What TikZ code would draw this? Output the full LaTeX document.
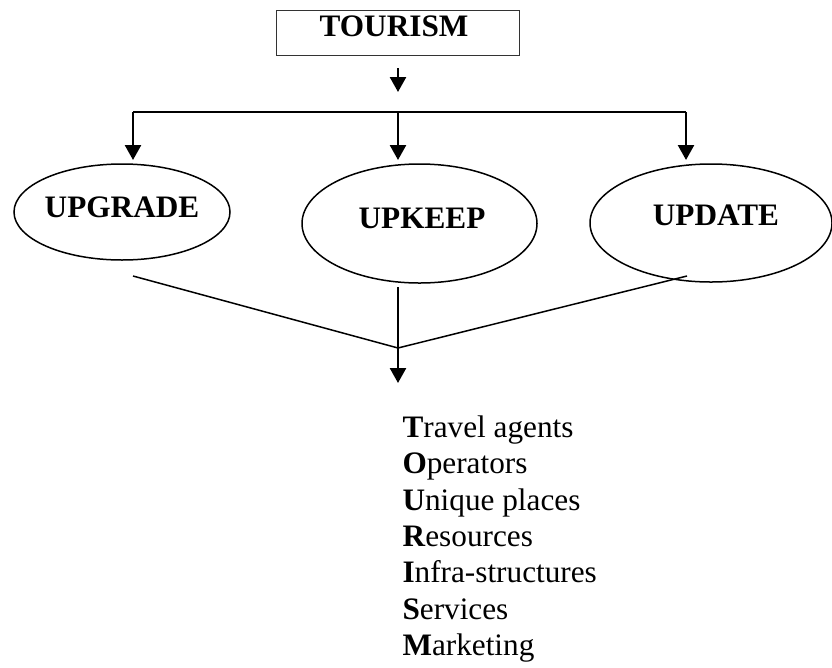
\documentclass[tikz,border=0pt]{standalone}
\usepackage{fontspec}
\setmainfont{Liberation Serif}
\usetikzlibrary{shapes.geometric,arrows.meta}
\begin{document}
\begin{tikzpicture}[x=0.4pt,y=-0.4pt,
  lbl/.style={font=\fontsize{12.5}{15}\selectfont\bfseries, inner sep=0pt, anchor=base},
  itm/.style={font=\fontsize{12.5}{15}\selectfont, inner sep=0pt, anchor=base west},
  oval/.style={ellipse, draw, line width=0.6pt, inner sep=0pt},
  arr/.style={line width=1pt, -{Triangle[length=6pt,width=6.4pt]}},
  ln/.style={line width=0.6pt}]
\useasboundingbox (0,0) rectangle (832,667);
% top box
\node[draw=black!80, line width=0.35pt, minimum width=97.2pt, minimum height=18pt, inner sep=0pt] (tbox) at (397.5,32.5) {};
\node[lbl] (ttxt) at (394,36) {TOURISM};
% ellipses
\node[oval, minimum width=86.4pt, minimum height=38.4pt] (upg) at (122,212) {};
\node[oval, minimum width=94pt, minimum height=47.6pt] (upk) at (419.5,223.5) {};
\node[oval, minimum width=96.8pt, minimum height=47.2pt] (upd) at (711,223) {};
\node[lbl] (upgt) at (122,217) {UPGRADE};
\node[lbl] (upkt) at (422,228) {UPKEEP};
\node[lbl] (updt) at (716,225) {UPDATE};
% coordinates
\coordinate (a1) at (398,68);
\coordinate (a2) at (398,92);
\coordinate (hl) at (133,112);
\coordinate (hm) at (398,112);
\coordinate (hr) at (686,112);
\coordinate (tl) at (133,160);
\coordinate (tm) at (398,160);
\coordinate (tr) at (686,160);
\coordinate (bl) at (133,276);
\coordinate (br) at (687,276);
\coordinate (bm) at (398,287);
\coordinate (cv) at (398,348);
\coordinate (bt) at (398,383);
% connectors
\draw[arr] (a1) -- (a2);
\draw[line width=1pt] (hl) -- (hr);
\draw[arr] (hl) -- (tl);
\draw[arr] (hm) -- (tm);
\draw[arr] (hr) -- (tr);
\draw[ln] (bl) -- (cv);
\draw[ln] (br) -- (cv);
\draw[arr] (bm) -- (bt);
% list
\node[itm] (t1) at (402,437) {\textbf{T}ravel agents};
\node[itm] (t2) at (402,473) {\textbf{O}perators};
\node[itm] (t3) at (402,510) {\textbf{U}nique places};
\node[itm] (t4) at (402,546) {\textbf{R}esources};
\node[itm] (t5) at (402,582) {\textbf{I}nfra-structures};
\node[itm] (t6) at (402,619) {\textbf{S}ervices};
\node[itm] (t7) at (402,655) {\textbf{M}arketing};
\end{tikzpicture}
\end{document}
